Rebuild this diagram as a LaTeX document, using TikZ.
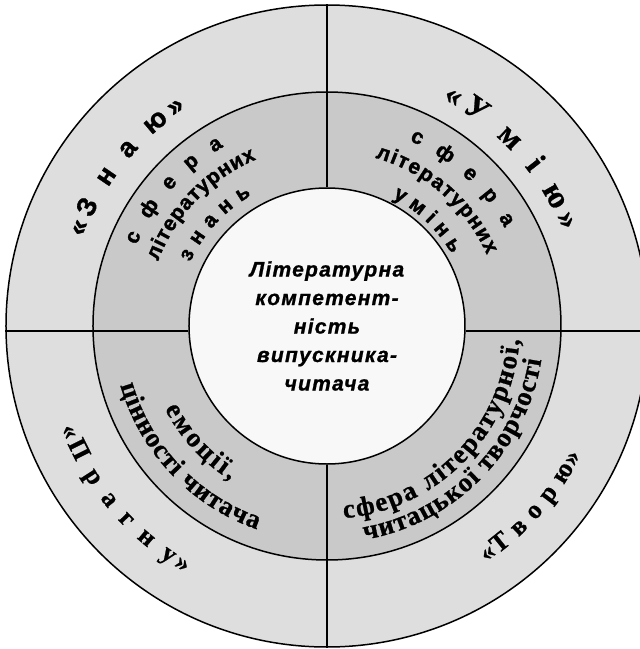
\documentclass[tikz,border=0pt]{standalone}
\usepackage{fontspec}
\setmainfont{Liberation Serif}
\setsansfont{Liberation Sans}
\usetikzlibrary{decorations.text}
\definecolor{outerfill}{HTML}{DEDEDE}
\definecolor{midfill}{HTML}{C9C9C9}
\definecolor{innerfill}{HTML}{F8F8F8}
\newcommand\outersans{\sffamily\bfseries\fontsize{27}{27}\selectfont\addfontfeature{FakeBold=1.2}}
\newcommand\outerserif{\rmfamily\bfseries\fontsize{26}{26}\selectfont\addfontfeature{FakeBold=0.8}}
\newcommand\bigserif{\rmfamily\bfseries\fontsize{32}{32}\selectfont\addfontfeature{FakeBold=0.8}}
\newcommand\midsans{\sffamily\bfseries\fontsize{21}{21}\selectfont\addfontfeature{FakeBold=1.6}}
\newcommand\midserif{\rmfamily\bfseries\fontsize{27}{27}\selectfont\addfontfeature{FakeBold=0.8}}
\newcommand\tallserif{\rmfamily\bfseries\fontsize{27}{27}\selectfont\addfontfeature{FakeBold=0.8}}
\newcommand\centerfont{\sffamily\bfseries\itshape\fontsize{21}{28.5}\selectfont\addfontfeature{LetterSpace=6,FakeBold=1}}
\begin{document}
\begin{tikzpicture}[x=1pt, y=1pt,
    ring/.style = {draw, circle, line width=1.5pt, inner sep=0pt},
    cross/.style = {line width=2.4pt},
    arctext/.style = {decorate, decoration={text along path, text align={fit to path}, text={#1}}}]
    \useasboundingbox (-327,-323) rectangle (313,326);
    \node[ring, fill=outerfill, minimum size=642pt] (outer) at (0,0) {};
    \node[ring, fill=midfill, minimum size=468pt] (middle) at (0,0) {};
    \node[ring, fill=innerfill, minimum size=276pt] (inner) at (0,0) {};
    \draw[cross] (inner.north) -- (outer.north);
    \draw[cross] (inner.south) -- (outer.south);
    \draw[cross] ([yshift=-5pt]inner.west) -- ([yshift=-5pt]outer.west);
    \draw[cross] ([yshift=-5pt]inner.east) -- ([yshift=-5pt]outer.east);
    \node[align=center, font=\centerfont] (title) at (0,0) {Літературна\\компетент-\\ність\\випускника-\\читача};
    % outer ring
    \path[arctext={|\outersans|«З н а ю»}] (160:259) arc[start angle=160, end angle=123, radius=259];
    \path[arctext={|\bigserif|«У м і ю»}] (63:254) arc[start angle=63, end angle=22, radius=254];
    \path[arctext={|\outerserif|«П р а г н у»}] (201:285) arc[start angle=201, end angle=240, radius=285];
    \path[arctext={|\outerserif|«Т в о р ю»}] (-56:285) arc[start angle=-56, end angle=-27, radius=285];
    % middle ring
    \path[arctext={|\midsans|с ф е р а}] (157:207) arc[start angle=157, end angle=120, radius=207];
    \path[arctext={|\midsans|літературних}] (159:181) arc[start angle=159, end angle=113, radius=181];
    \path[arctext={|\midsans|знань}] (155:151) arc[start angle=155, end angle=120, radius=151];
    \path[arctext={|\midsans|с ф е р а}] (66:203) arc[start angle=66, end angle=29, radius=203];
    \path[arctext={|\midsans|літературних}] (74:175) arc[start angle=74, end angle=24, radius=175];
    \path[arctext={|\midsans|умінь}] (63:144) arc[start angle=63, end angle=30, radius=144];
    \path[arctext={|\tallserif|емоції,}] (207:182) arc[start angle=207, end angle=238, radius=182];
    \path[arctext={|\tallserif|цінності читача}] (196:215) arc[start angle=196, end angle=251, radius=215];
    \path[arctext={|\midserif|сфера літературної,}] (-85:193) arc[start angle=-85, end angle=-4, radius=193];
    \path[arctext={|\midserif|читацької творчості}] (-80:217) arc[start angle=-80, end angle=-9, radius=217];
\end{tikzpicture}
\end{document}
